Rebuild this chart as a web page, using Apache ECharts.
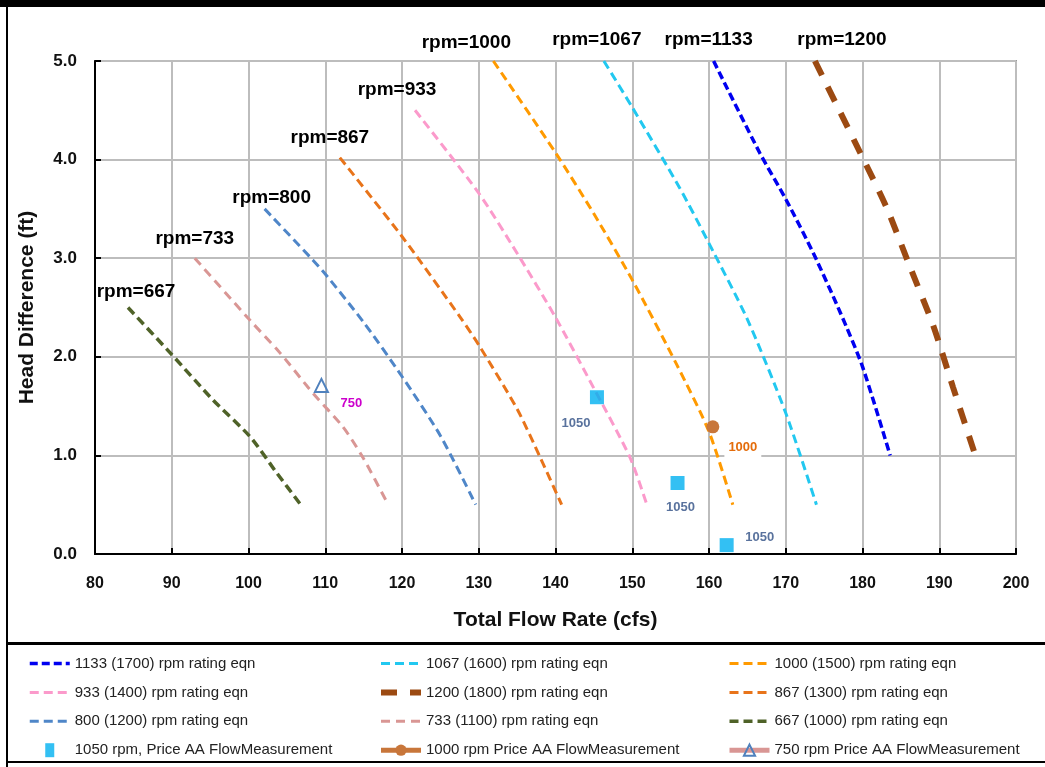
<!DOCTYPE html>
<html>
<head>
<meta charset="utf-8">
<script src="https://cdn.jsdelivr.net/npm/echarts@6/dist/echarts.min.js"></script>
<style>
  html, body { margin: 0; padding: 0; background: #fff; }
  #chart { width: 1045px; height: 767px; }
</style>
</head>
<body>
<div id="chart"></div>
<script>
// rating curves: [flow (cfs), head (ft)]
const curve1133 = [[160.6, 5.0], [166.6, 4.07], [170, 3.6], [173.6, 3.05], [177.1, 2.45], [180, 1.9], [183.6, 1.0]]
const curve1067 = [[146.3, 5.0], [150, 4.53], [156.2, 3.71], [160, 3.15], [165, 2.38], [170, 1.43], [174, 0.5]]
const curve1000 = [[131.9, 5.0], [140, 4.07], [145, 3.45], [150, 2.78], [155.8, 1.92], [160, 1.24], [163.1, 0.5]]
const curve933 = [[121.7, 4.5], [130, 3.66], [135, 3.05], [140, 2.4], [145, 1.68], [149.7, 0.98], [151.9, 0.5]]
const curve1200 = [[173.8, 5.0], [179.7, 4.07], [183.1, 3.52], [186.2, 2.91], [189.2, 2.32], [191.8, 1.69], [194.7, 1.0]]
const curve867 = [[111.9, 4.02], [120, 3.22], [127.6, 2.4], [130, 2.12], [135, 1.47], [138, 0.98], [140.8, 0.5]]
const curve800 = [[102.1, 3.5], [108.4, 2.98], [110, 2.84], [115, 2.35], [120, 1.8], [125, 1.2], [129.6, 0.5]]
const curve733 = [[93, 3.0], [100.2, 2.37], [104.1, 2.04], [108.4, 1.63], [112.3, 1.29], [114.9, 0.98], [118.2, 0.5]]
const curve667 = [[84.3, 2.5], [89.8, 2.04], [95.4, 1.56], [100.2, 1.19], [103.7, 0.82], [106.8, 0.5]]

// Price AA flow measurements
const meas1050 = [[145.4, 1.59], [155.9, 0.72], [162.3, 0.09]]
const meas1000 = [[160.5, 1.29]]
const meas750 = [[109.5, 1.71]]

const curveNames = [
  '1133 (1700) rpm rating eqn', '1067 (1600) rpm rating eqn', '1000 (1500) rpm rating eqn',
  '933 (1400) rpm rating eqn', '1200 (1800) rpm rating eqn', '867 (1300) rpm rating eqn',
  '800 (1200) rpm rating eqn', '733 (1100) rpm rating eqn', '667 (1000) rpm rating eqn'
]
const rpmLabels = ['rpm=1133', 'rpm=1067', 'rpm=1000', 'rpm=933', 'rpm=1200', 'rpm=867', 'rpm=800', 'rpm=733', 'rpm=667']
const measNames = [
  '1050 rpm, Price AA FlowMeasurement',
  '1000 rpm Price AA FlowMeasurement',
  '750 rpm Price AA FlowMeasurement'
]
const meas1050Labels = ['1050', '1050', '1050']
const meas1000Labels = ['1000']
const meas750Labels = ['750']

const curves = [curve1133, curve1067, curve1000, curve933, curve1200, curve867, curve800, curve733, curve667]

// styles (not data)
const curveStyles = [
  { color: '#0000f0', width: 3.5, dash: [8, 4], off: [-5, -21] },
  { color: '#22c8f0', width: 3, dash: [9, 5], off: [-7, -21] },
  { color: '#ff9a00', width: 3, dash: [9, 5], off: [-27, -18] },
  { color: '#fb9acb', width: 3, dash: [9, 5], off: [-18, -21] },
  { color: '#9c4a12', width: 6, dash: [16, 13], off: [27, -21] },
  { color: '#e8741a', width: 3, dash: [9, 5], off: [-10, -20] },
  { color: '#4f86c8', width: 3, dash: [9, 5], off: [7, -11] },
  { color: '#d99694', width: 3, dash: [9, 6], off: [0, -19] },
  { color: '#4f6228', width: 3.5, dash: [9, 5], off: [8, -16] }
]

const FONT = '"Liberation Sans", Arial, sans-serif'

const chart = echarts.init(document.getElementById('chart'), null, { renderer: 'canvas' })

const series = curves.map((pts, i) => {
  const st = curveStyles[i]
  return {
    name: curveNames[i],
    type: 'line',
    data: pts,
    smooth: 0.25,
    symbol: 'none',
    silent: true,
    color: st.color,
    lineStyle: { color: st.color, width: st.width, type: st.dash, cap: 'butt' },
    markPoint: {
      symbol: 'circle',
      symbolSize: 0,
      silent: true,
      animation: false,
      data: [{ coord: pts[0] }],
      label: {
        show: true,
        formatter: rpmLabels[i],
        offset: st.off,
        color: '#000',
        fontFamily: FONT,
        fontWeight: 'bold',
        fontSize: 19
      }
    }
  }
})

const measLabelStyle = (color) => ({
  show: true,
  color: color,
  fontFamily: FONT,
  fontWeight: 'bold',
  fontSize: 13,
  backgroundColor: '#fff',
  padding: [3, 4]
})

series.push({
  name: measNames[0],
  type: 'scatter',
  symbol: 'rect',
  symbolSize: 14,
  color: '#00b0f0',
  itemStyle: { color: '#00b0f0' },
  data: meas1050.map((p, i) => ({
    value: p,
    label: Object.assign(measLabelStyle('#2f4f85'), {
      formatter: meas1050Labels[i],
      offset: [[-21, 26], [3, 24], [33, -8]][i]
    })
  })),
  label: { position: 'inside' },
  z: 5
})

series.push({
  name: measNames[1],
  type: 'line',
  symbol: 'circle',
  symbolSize: 13,
  showSymbol: true,
  color: '#c8763a',
  itemStyle: { color: '#c8763a' },
  lineStyle: { color: '#c8763a', width: 5 },
  data: meas1000.map((p, i) => ({
    value: p,
    label: Object.assign(measLabelStyle('#e46c0a'), {
      formatter: meas1000Labels[i],
      position: 'inside',
      offset: [30, 21]
    })
  })),
  z: 5
})

series.push({
  name: measNames[2],
  type: 'line',
  symbol: 'triangle',
  symbolSize: 13,
  showSymbol: true,
  color: '#d99694',
  itemStyle: { color: 'rgba(255,255,255,0)', borderColor: '#4f81bd', borderWidth: 2 },
  lineStyle: { color: '#d99694', width: 5 },
  data: meas750.map((p, i) => ({
    value: p,
    label: Object.assign(measLabelStyle('#cc00cc'), {
      formatter: meas750Labels[i],
      position: 'inside',
      offset: [30, 18]
    })
  })),
  z: 5
})

const legendBase = {
  orient: 'vertical',
  top: 651,
  itemWidth: 40,
  itemHeight: 14,
  itemGap: 13.9,
  selectedMode: false,
  lineStyle: { width: 'inherit' },
  textStyle: { fontFamily: FONT, fontSize: 15, color: '#222' }
}

// curve legend entries: dashed line only, symbol hidden
const curveItem = (name) => ({ name: name, itemStyle: { opacity: 0 } })

const option = {
  animation: false,
  backgroundColor: '#fff',
  grid: {
    left: 95, right: 29, top: 61, bottom: 213,
    show: true, borderColor: '#9a9a9a', borderWidth: 2, backgroundColor: 'transparent'
  },
  xAxis: {
    type: 'value',
    min: 80, max: 200, interval: 10,
    name: 'Total Flow Rate (cfs)',
    nameLocation: 'middle',
    nameGap: 56,
    nameTextStyle: { fontFamily: FONT, fontWeight: 'bold', fontSize: 21, color: '#111' },
    axisLine: { lineStyle: { color: '#000', width: 2 } },
    axisTick: { inside: true, length: 6, lineStyle: { color: '#000', width: 2 } },
    axisLabel: { margin: 22, fontFamily: FONT, fontWeight: 'bold', fontSize: 16, color: '#111' },
    splitLine: { lineStyle: { color: '#bdbdbd', width: 2 } }
  },
  yAxis: {
    type: 'value',
    min: 0, max: 5, interval: 1,
    name: 'Head Difference (ft)',
    nameLocation: 'middle',
    nameGap: 57,
    nameTextStyle: { fontFamily: FONT, fontWeight: 'bold', fontSize: 21, color: '#111' },
    axisLine: { show: true, lineStyle: { color: '#000', width: 2 } },
    axisTick: { show: true, inside: true, length: 6, lineStyle: { color: '#000', width: 2 } },
    axisLabel: {
      margin: 18, fontFamily: FONT, fontWeight: 'bold', fontSize: 17, color: '#111',
      formatter: (v) => v.toFixed(1)
    },
    splitLine: { lineStyle: { color: '#bdbdbd', width: 2 } }
  },
  legend: [
    Object.assign({}, legendBase, {
      left: 23,
      data: [curveItem(curveNames[0]), curveItem(curveNames[3]), curveItem(curveNames[6]),
        { name: measNames[0], icon: 'path://M0,0L9,0L9,14L0,14Z' }]
    }),
    Object.assign({}, legendBase, {
      left: 373,
      data: [curveItem(curveNames[1]), curveItem(curveNames[4]), curveItem(curveNames[7]), measNames[1]]
    }),
    Object.assign({}, legendBase, {
      left: 722,
      data: [curveItem(curveNames[2]), curveItem(curveNames[5]), curveItem(curveNames[8]), measNames[2]]
    })
  ],
  graphic: [
    { type: 'rect', shape: { x: 0, y: 0, width: 1045, height: 7 }, style: { fill: '#000' }, silent: true },
    { type: 'line', shape: { x1: 7, y1: 0, x2: 7, y2: 767 }, style: { stroke: '#000', lineWidth: 2 }, silent: true },
    { type: 'line', shape: { x1: 7, y1: 643.5, x2: 1045, y2: 643.5 }, style: { stroke: '#000', lineWidth: 3 }, silent: true },
    { type: 'line', shape: { x1: 7, y1: 762, x2: 1045, y2: 762 }, style: { stroke: '#000', lineWidth: 2 }, silent: true }
  ],
  series: series
}

chart.setOption(option)
</script>
</body>
</html>
